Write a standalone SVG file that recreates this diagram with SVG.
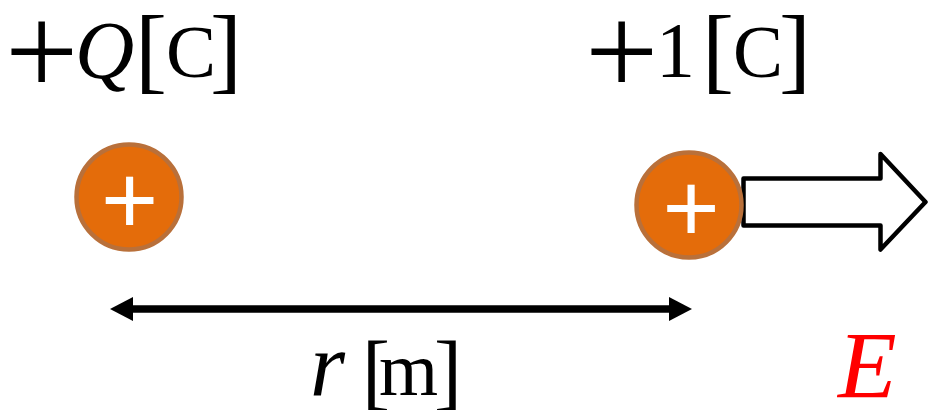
<svg xmlns="http://www.w3.org/2000/svg" width="929" height="410" viewBox="0 0 929 410">
  <style>
    .math { font-family: "Liberation Serif", "Times New Roman", serif; fill: #000; }
    .it { font-style: italic; }
    .charge { fill: #E46C0A; stroke: #B9703A; stroke-width: 4.5; }
    .sign { font-family: "Liberation Sans", Arial, sans-serif; font-size: 98px; fill: #FFFFFF; text-anchor: middle; }
    .field { fill: #FFFFFF; stroke: #000; stroke-width: 4.5; stroke-linejoin: round; }
    .dist { stroke: #000; stroke-width: 7.5; fill: none; }
  </style>
  <defs>
    <marker id="head" markerUnits="userSpaceOnUse" markerWidth="23" markerHeight="24" viewBox="0 0 23 24" refX="8" refY="12" orient="auto-start-reverse">
      <path d="M0,0 L23,12 L0,24 Z" fill="#000"/>
    </marker>
  </defs>
  <rect width="929" height="410" fill="#FFFFFF"/>

  <g id="label-Q">
    <text class="math"><tspan x="5" y="95" font-size="130">+</tspan><tspan class="it" x="75" y="78" font-size="82">Q</tspan><tspan x="135" y="81" font-size="96">[</tspan><tspan x="166" y="77" font-size="75">C</tspan><tspan x="210" y="81" font-size="96">]</tspan></text>
  </g>

  <g id="label-1">
    <text class="math"><tspan x="585" y="95" font-size="130">+</tspan><tspan x="656" y="76" font-size="78">1</tspan><tspan x="702" y="81" font-size="96">[</tspan><tspan x="733" y="77" font-size="75">C</tspan><tspan x="779" y="81" font-size="96">]</tspan></text>
  </g>

  <g id="charge-Q">
    <circle class="charge" cx="129" cy="197" r="52.5"/>
    <text class="sign" x="129.5" y="234">+</text>
  </g>

  <g id="field-E">
    <polygon class="field" points="743.5,178.5 880.5,178.5 880.5,154 925.5,202 880.5,249.5 880.5,225.5 743.5,225.5"/>
  </g>

  <g id="charge-1">
    <circle class="charge" cx="689" cy="205" r="52.5"/>
    <text class="sign" x="691" y="242">+</text>
  </g>

  <g id="connectors">
    <line class="dist" x1="125" y1="309" x2="677" y2="309" marker-start="url(#head)" marker-end="url(#head)"/>
  </g>

  <g id="label-r">
    <text class="math"><tspan class="it" x="310" y="395" font-size="90">r</tspan><tspan x="362" y="400" font-size="84">[</tspan><tspan x="379" y="395" font-size="76">m</tspan><tspan x="434" y="400" font-size="84">]</tspan></text>
  </g>

  <g id="label-E">
    <text class="math it" x="838" y="398" font-size="96" style="fill:#FF0000">E</text>
  </g>
</svg>
